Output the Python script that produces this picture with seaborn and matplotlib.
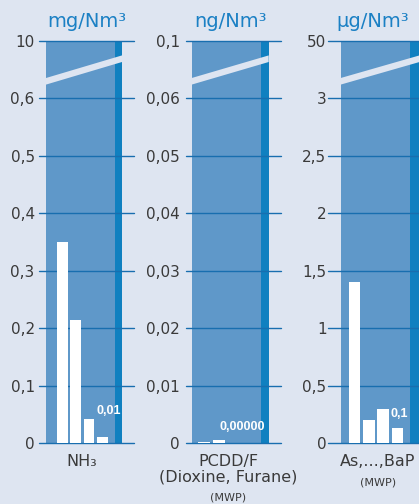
import matplotlib
matplotlib.use("Agg")
import matplotlib.pyplot as plt
import matplotlib.transforms as mtransforms
from matplotlib.patches import Polygon
import pandas as pd
import seaborn as sns

# ---- data -------------------------------------------------------------
bar_slots = ["1", "2", "3", "4"]

nh3_values = [0.35, 0.215, 0.042, 0.011]
pcdd_values = [0.0003, 0.0006, 0.0, 0.0]
metals_values = [1.4, 0.2, 0.3, 0.13]

nh3_ticks = [0, 0.1, 0.2, 0.3, 0.4, 0.5, 0.6, 0.7]
nh3_tick_labels = ["0", "0,1", "0,2", "0,3", "0,4", "0,5", "0,6", "10"]
pcdd_ticks = [0, 0.01, 0.02, 0.03, 0.04, 0.05, 0.06, 0.07]
pcdd_tick_labels = ["0", "0,01", "0,02", "0,03", "0,04", "0,05", "0,06", "0,1"]
metals_ticks = [0, 0.5, 1.0, 1.5, 2.0, 2.5, 3.0, 3.5]
metals_tick_labels = ["0", "0,5", "1", "1,5", "2", "2,5", "3", "50"]

units = ["mg/Nm³", "ng/Nm³", "µg/Nm³"]
names = [["NH₃"], ["PCDD/F", "(Dioxine, Furane)"], ["As,...,BaP"]]
notes = ["", "(MWP)", "(MWP)"]
label_decimals = [2, 5, 1]

values = [nh3_values, pcdd_values, metals_values]
ticks = [nh3_ticks, pcdd_ticks, metals_ticks]
tick_labels = [nh3_tick_labels, pcdd_tick_labels, metals_tick_labels]

# ---- style ------------------------------------------------------------
BG = "#dee5f1"
BOX = "#5f98c9"
STRIP = "#1080c0"
GRID = "#186eaf"
TITLE = "#1b80c4"
TEXT = "#3a3a3a"

sns.set_theme(style="white")
plt.rcParams["font.family"] = ["DejaVu Sans"]

W, H = 419, 504
AX_TOP, AX_BOTTOM = 41.0, 443.3

# layout in pixels for each panel
layout = [
    dict(ax_l=39.3, ax_r=134.0, box_l=46.0, box_r=122.0, strip_l=115.0,
         c1=62.3, step=13.4, title_x=86.5, name_x=82.0, note_row=1,
         lab_dx=4.2, lab_dy=16.6, pad=3.3),
    dict(ax_l=185.7, ax_r=280.5, box_l=191.7, box_r=268.7, strip_l=261.0,
         c1=204.3, step=15.0, title_x=230.5, name_x=228.5, note_row=2,
         lab_dx=-5.3, lab_dy=9.6, pad=4.1),
    dict(ax_l=328.3, ax_r=423.0, box_l=340.7, box_r=419.5, strip_l=410.0,
         c1=354.5, step=14.3, title_x=372.5, name_x=378.0, note_row=1,
         lab_dx=1.1, lab_dy=8.1, pad=1.3),
]

fig = plt.figure(figsize=(W / 100, H / 100), dpi=100, facecolor=BG)

for i, L in enumerate(layout):
    ax = fig.add_axes([L["ax_l"] / W, 1 - AX_BOTTOM / H,
                       (L["ax_r"] - L["ax_l"]) / W, (AX_BOTTOM - AX_TOP) / H])
    ax.set_facecolor("none")

    def to_x(px, L=L):
        return (px - L["c1"]) / L["step"]

    df = pd.DataFrame({"slot": bar_slots, "value": values[i]})
    sns.barplot(data=df, x="slot", y="value", ax=ax, color="white",
                saturation=1, width=0.8, errorbar=None, linewidth=0,
                zorder=3)

    ax.set_xlim(to_x(L["ax_l"]), to_x(L["ax_r"]))
    ax.set_ylim(ticks[i][0], ticks[i][-1])

    # blue panel with darker strip on the right
    ax.axvspan(to_x(L["box_l"]), to_x(L["strip_l"]), color=BOX, lw=0, zorder=0)
    ax.axvspan(to_x(L["strip_l"]), to_x(L["box_r"]), color=STRIP, lw=0, zorder=0)

    for t in ticks[i]:
        ax.axhline(t, color=GRID, lw=1.0, zorder=2, clip_on=False)

    # axis break band
    trans = mtransforms.blended_transform_factory(ax.transData, ax.transAxes)
    yl, yr, hh = 0.8998, 0.956, 0.0082
    xl, xr = to_x(L["box_l"]), to_x(L["box_r"])
    ax.add_patch(Polygon([(xl, yl - hh), (xr, yr - hh), (xr, yr + hh), (xl, yl + hh)],
                         closed=True, transform=trans, facecolor=BG,
                         edgecolor="none", zorder=4))

    ax.set_yticks(ticks[i], tick_labels[i])
    ax.set_xticks([])
    ax.set_xlabel("")
    ax.set_ylabel("")
    ax.tick_params(axis="y", length=0, pad=L["pad"], labelsize=11,
                   labelcolor=TEXT)
    for s in ax.spines.values():
        s.set_visible(False)

    # value label on the last bar
    last = values[i][-1]
    txt = f"{last:.{label_decimals[i]}f}".replace(".", ",")
    ax.annotate(txt, xy=(3, last), xytext=(L["lab_dx"], L["lab_dy"]),
                textcoords="offset points", ha="center", va="baseline",
                color="white", fontsize=9, fontweight="bold",
                family=["Liberation Sans", "DejaVu Sans"], zorder=5,
                annotation_clip=False)

    # unit heading
    fig.text(L["title_x"] / W, 1 - 27.3 / H, units[i], ha="center",
             va="baseline", fontsize=14, color=TITLE)

    # category name beneath the panel
    for r, line in enumerate(names[i]):
        fig.text(L["name_x"] / W, 1 - (466 + 15.5 * r) / H, line,
                 ha="center", va="baseline", fontsize=11.5, color=TEXT)
    if notes[i]:
        fig.text(L["name_x"] / W, 1 - (470 + 15.5 * L["note_row"]) / H,
                 notes[i], ha="center", va="baseline", fontsize=8,
                 color=TEXT)

fig.savefig("out.png", dpi=100, facecolor=BG)
